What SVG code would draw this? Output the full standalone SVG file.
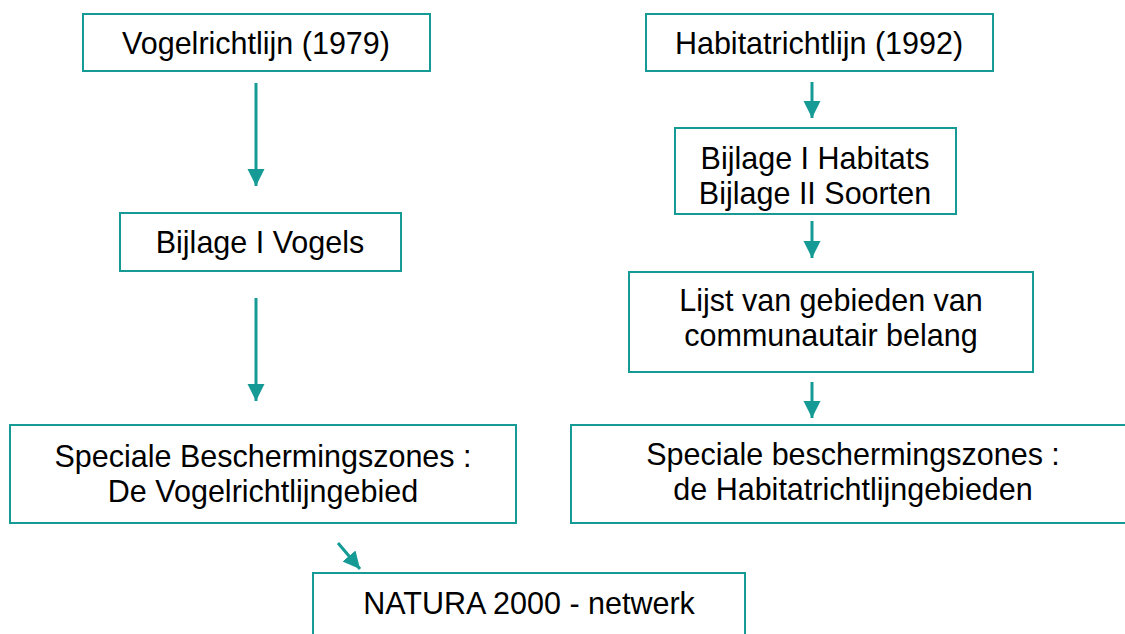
<svg xmlns="http://www.w3.org/2000/svg" width="1125" height="634" viewBox="0 0 1125 634">
<style>
.box{fill:#ffffff;stroke:#159a95;stroke-width:2}
.t{font-family:"Liberation Sans",Arial,sans-serif;font-size:30.5px;fill:#000;text-anchor:middle}
.c{stroke:#159a95;stroke-width:3;fill:none;marker-end:url(#ah)}
</style>
<defs>
<marker id="ah" markerUnits="userSpaceOnUse" markerWidth="18" markerHeight="18" viewBox="0 0 18 18" refX="17" refY="9" orient="auto">
<path d="M0,0.5 L17,9 L0,17.5 Z" fill="#159a95"/>
</marker>
</defs>
<rect width="1125" height="634" fill="#ffffff"/>
<g id="connectors">
<line class="c" x1="256" y1="83" x2="256" y2="186"/>
<line class="c" x1="256" y1="298" x2="256" y2="401"/>
<line class="c" x1="812" y1="82" x2="812" y2="118"/>
<line class="c" x1="812" y1="221" x2="812" y2="258"/>
<line class="c" x1="812" y1="382" x2="812" y2="418"/>
<line class="c" x1="338" y1="543" x2="360" y2="569"/>
</g>
<g id="n1"><rect class="box" x="83" y="14" width="347" height="57"/><text class="t" x="256" y="54">Vogelrichtlijn (1979)</text></g>
<g id="n2"><rect class="box" x="120" y="213" width="281" height="58"/><text class="t" x="260" y="253">Bijlage I Vogels</text></g>
<g id="n3"><rect class="box" x="10" y="425" width="506" height="98"/><text class="t" x="263" y="467">Speciale Beschermingszones :</text><text class="t" x="263" y="502">De Vogelrichtlijngebied</text></g>
<g id="n4"><rect class="box" x="646" y="14" width="347" height="57"/><text class="t" x="819" y="54">Habitatrichtlijn (1992)</text></g>
<g id="n5"><rect class="box" x="675" y="128" width="281" height="86"/><text class="t" x="815" y="169">Bijlage I Habitats</text><text class="t" x="815" y="204">Bijlage II Soorten</text></g>
<g id="n6"><rect class="box" x="629" y="272" width="404" height="100"/><text class="t" x="831" y="311">Lijst van gebieden van</text><text class="t" x="831" y="346">communautair belang</text></g>
<g id="n7"><rect class="box" x="571" y="425" width="565" height="98"/><text class="t" x="853" y="465">Speciale beschermingszones :</text><text class="t" x="853" y="500">de Habitatrichtlijngebieden</text></g>
<g id="n8"><rect class="box" x="313" y="573" width="432" height="70"/><text class="t" x="529" y="614">NATURA 2000 - netwerk</text></g>
</svg>
